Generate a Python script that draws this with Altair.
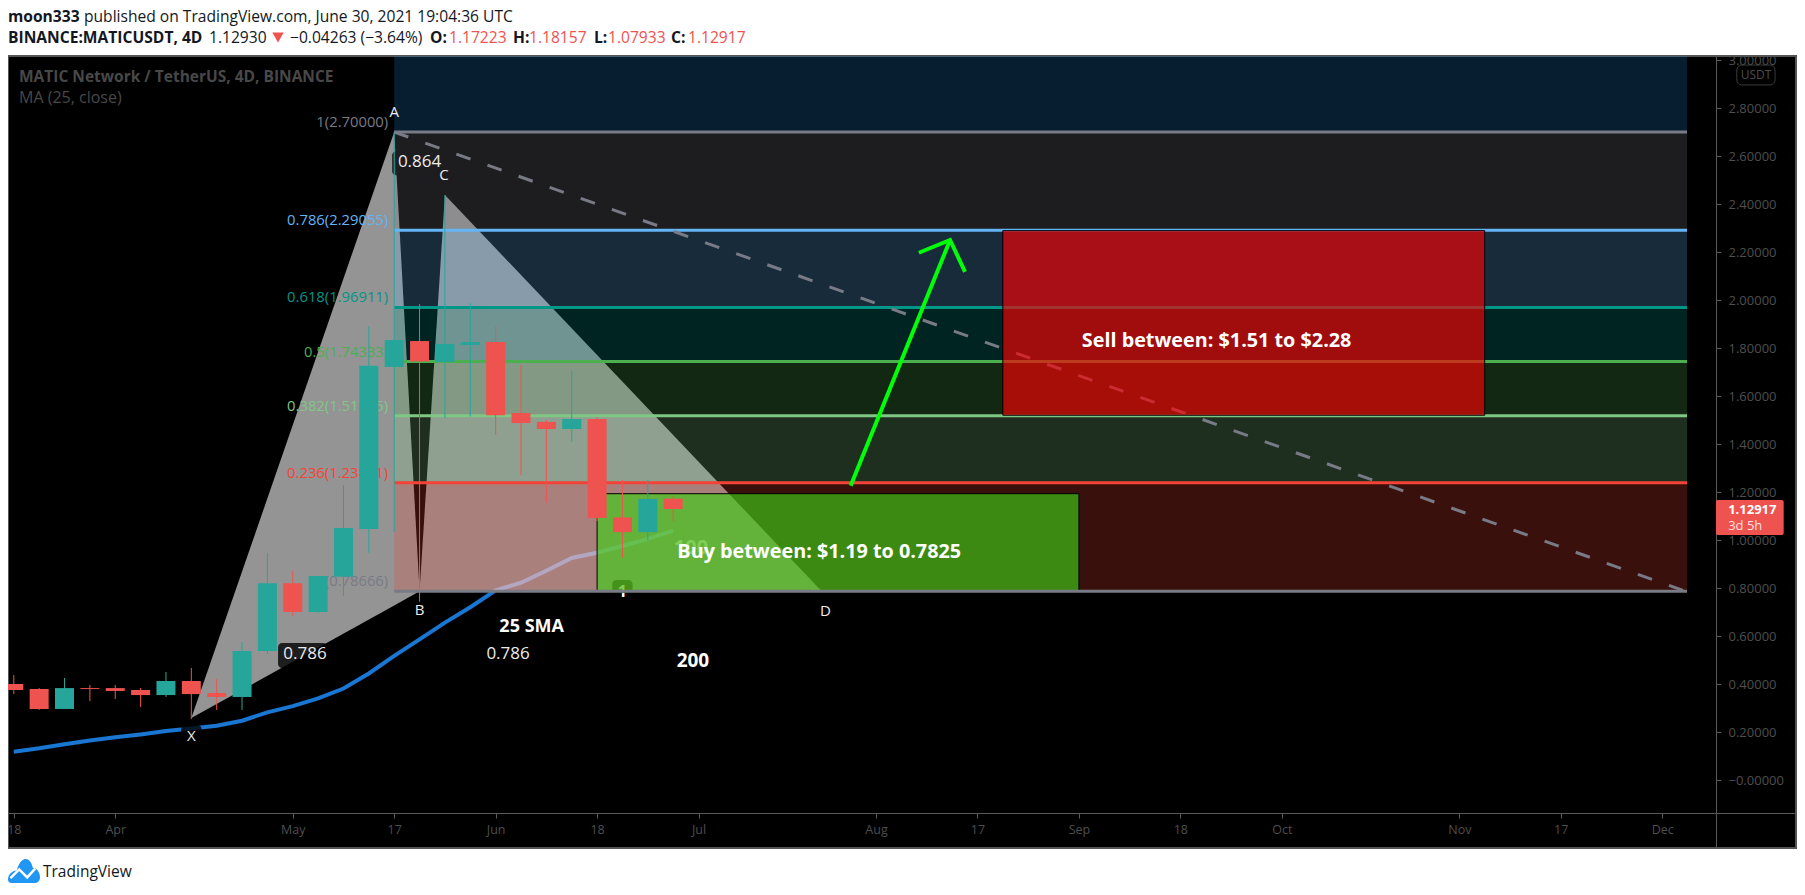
import altair as alt
import pandas as pd

FONT = "Open Sans"
TEAL, RED = "#26a69a", "#ef5350"
AXC = "#4e4e4e"

# --- candle data (bar index, 4D bars) ---
opens  = [.40,.379,.296,.383,.383,.375,.354,.4125,.3625,.346,.5375,.82,.70,.847,1.046,1.721,1.829,1.742,1.8125,1.825,1.529,1.492,1.4625,1.504,1.094,1.033,1.17223]
highs  = [.4375,.383,.425,.396,.396,.383,.45,.467,.421,.575,.945,.872,.85,1.229,1.89,2.70,1.983,2.4375,1.986,1.89,1.729,1.5,1.708,1.5125,1.25,1.25,1.18157]
lows   = [.358,.292,.296,.329,.3375,.304,.346,.254,.292,.292,.525,.683,.696,.768,.947,1.033,.743,1.508,1.514,1.4375,1.27,1.155,1.408,1.079,.926,1.0,1.07933]
closes = [.375,.296,.383,.379,.371,.354,.4125,.358,.346,.5375,.82,.70,.85,1.05,1.726,1.833,1.744,1.817,1.825,1.52,1.4875,1.4625,1.504,1.092,1.033,1.171,1.12917]
ma25   = [.118,.132,.149,.165,.178,.19,.204,.215,.226,.247,.282,.308,.34,.381,.444,.517,.586,.656,.72,.79,.822,.872,.925,.947,.975,1.005,1.039]
bars = list(range(len(opens)))

# --- axes ---
y_ticks = [0, .2, .4, .6, .8, 1.0, 1.2, 1.4, 1.6, 1.8, 2.0, 2.2, 2.4, 2.6, 2.8, 3.0]
x_ticks = [0, 4, 11, 15, 19, 23, 27, 34, 38, 42, 46, 50, 57, 61, 65]
x_tick_labels = ["18", "Apr", "May", "17", "Jun", "18", "Jul", "Aug", "17", "Sep", "18", "Oct", "Nov", "17", "Dec"]

# --- fib levels ---
fib_prices = [2.70, 2.29055, 1.96911, 1.74333, 1.51755, 1.23811, .78666]
fib_names = ["1(2.70000)", "0.786(2.29055)", "0.618(1.96911)", "0.5(1.74333)", "0.382(1.51755)", "0.236(1.23811)", "0(0.78666)"]
fib_colors = ["#787b86", "#64b5f6", "#009688", "#4caf50", "#81c784", "#f44336", "#787b86"]
FIB_X0, FIB_X1 = 15, 65.98

band_tops = [3.0167, 2.70, 2.29055, 1.96911, 1.74333, 1.51755, 1.23811]
band_bottoms = [2.70, 2.29055, 1.96911, 1.74333, 1.51755, 1.23811, .78666]
band_colors = ["#2196f3", "#787b86", "#64b5f6", "#009688", "#4caf50", "#81c784", "#f44336"]
band_alpha = [.2, .24, .24, .24, .23, .23, .24]

# --- XABCD pattern ---
tri1_x, tri1_top, tri1_low = [7, 15, 16], [.258, 2.70, .786], [.258, .727, .786]
tri2_x, tri2_top, tri2_low = [16, 17, 31.86], [.786, 2.4375, .786], [.786, .786, .786]
dash_x, dash_y = [15, 65.82], [2.70, .79]

pill_x0 = [10.42, 14.92, 6.6, 23.6]
pill_x1 = [12.35, 17.2, 7.4, 24.4]
pill_y0 = [.571, 2.62, .23, .833]
pill_y1 = [.467, 2.52, .146, .77]

# --- annotations ---
arrow_shaft_x, arrow_shaft_y = [33, 36.92], [1.226, 2.25]
arrow_head_x, arrow_head_y = [35.69, 36.92, 37.51], [2.197, 2.25, 2.117]

under_text = ["1", "100"]
under_x, under_y, under_size = [24, 26.7], [.783, .965], [16, 20]

note_text = ["A", "B", "C", "D", "X", "0.864", "0.786", "0.786"]
note_x = [15, 16, 16.96, 32, 7, 16, 11.48, 19.49]
note_y = [2.783, .708, 2.52, .704, .183, 2.573, .525, .525]
note_size = [15, 15, 15, 15, 15, 17, 17, 17]
bold_text = ["25 SMA", "200", "Buy between: $1.19 to 0.7825", "Sell between: $1.51 to $2.28"]
bold_x = [20.42, 26.78, 31.76, 47.43]
bold_y = [.638, .495, .952, 1.829]
bold_size = [18, 19, 19.8, 19.8]

header_text = ["moon333", "published on TradingView.com, June 30, 2021 19:04:36 UTC",
               "BINANCE:MATICUSDT, 4D", "1.12930", "−0.04263 (−3.64%)", "O:", "1.17223", "H:", "1.18157", "L:", "1.07933", "C:", "1.12917"]
header_x = [8, 84, 8, 209, 290, 430, 449, 513, 529, 594, 608, 671, 688]
header_row = [17, 17, 38, 38, 38, 38, 38, 38, 38, 38, 38, 38, 38]
header_weight = ["bold", "normal", "bold", "normal", "normal", "bold", "normal", "bold", "normal", "bold", "normal", "bold", "normal"]
header_color = ["#131722", "#131722", "#131722", "#131722", "#131722", "#131722", RED, "#131722", RED, "#131722", RED, "#131722", RED]

# --- scales ---
PW, PH = 1788, 792
OX, OY = 8, 56
XS = alt.Scale(domain=[-0.2287, 70.276], nice=False, zero=False, padding=0)
YS = alt.Scale(domain=[-0.2833, 3.0167], nice=False, zero=False, padding=0)
lab_expr = "[" + ",".join(f"'{s}'" for s in x_tick_labels) + "][indexof([" + ",".join(map(str, x_ticks)) + "],datum.value)]"
XAX = alt.Axis(orient="bottom", offset=-35, values=x_ticks, labelExpr=lab_expr, grid=False, title=None,
               domainColor="#5a5a5a", tickColor="#5a5a5a", tickSize=5, labelColor=AXC, labelFont=FONT,
               labelFontSize=12.5, labelPadding=5, labelOverlap=False, labelFlush=False)
YAX = alt.Axis(orient="right", offset=-80, values=y_ticks, grid=False, title=None,
               labelExpr="datum.value==0 ? '−0.00000' : format(datum.value,'.5f')",
               domainColor="#5a5a5a", tickColor="#5a5a5a", tickSize=5, labelColor=AXC, labelFont=FONT,
               labelFontSize=13, labelPadding=7, labelOverlap=False, labelFlush=False)
def X(f, **k): return alt.X(f, type="quantitative", scale=XS, axis=XAX, **k)
def Y(f, **k): return alt.Y(f, type="quantitative", scale=YS, axis=YAX, **k)
X2 = lambda f: alt.X2(f)
Y2 = lambda f: alt.Y2(f)

def labels(text, x, y, size, color="#ffffff", weight="normal", align="center", **kw):
    df = pd.DataFrame({"t": text, "x": x, "y": y, "s": size})
    return alt.Chart(df).mark_text(font=FONT, color=color, fontWeight=weight, align=align, baseline="middle", **kw).encode(
        x=X("x"), y=Y("y"), text="t:N", size=alt.Size("s:Q", scale=None))

def pixel_text(t, px, py, size, color, weight="normal"):
    return alt.Chart(pd.DataFrame({"t": [t]})).mark_text(
        font=FONT, fontSize=size, fontWeight=weight, color=color, align="left", baseline="middle").encode(
        x=alt.value(px - OX), y=alt.value(py - OY), text="t:N")

# MA line (under the overlays)
ma = alt.Chart(pd.DataFrame({"x": bars, "y": ma25})).mark_line(color="#1976d2", strokeWidth=4).encode(x=X("x"), y=Y("y"))

# pattern triangles
def tri(xs, top, low):
    return alt.Chart(pd.DataFrame({"x": xs, "a": top, "b": low})).mark_area(color="#ffffff", opacity=.58).encode(
        x=X("x"), y=Y("a"), y2=Y2("b"))

pills = alt.Chart(pd.DataFrame({"a": pill_x0, "b": pill_x1, "c": pill_y0, "d": pill_y1})).mark_rect(
    color="#000000", opacity=.8, cornerRadius=4).encode(x=X("a"), x2=X2("b"), y=Y("c"), y2=Y2("d"))

under = labels(under_text, under_x, under_y, under_size, weight="bold")

# fib bands
bands = alt.Chart(pd.DataFrame({"a": [FIB_X0] * 7, "b": [FIB_X1] * 7, "c": band_tops, "d": band_bottoms,
                                "col": band_colors, "op": band_alpha})).mark_rect().encode(
    x=X("a"), x2=X2("b"), y=Y("c"), y2=Y2("d"),
    color=alt.Color("col:N", scale=None), opacity=alt.Opacity("op:Q", scale=None))

fib_df = pd.DataFrame({"a": [FIB_X0] * 7, "b": [FIB_X1] * 7, "y": fib_prices, "col": fib_colors, "t": fib_names})
lines = alt.Chart(fib_df).mark_rule(strokeWidth=3).encode(
    x=X("a"), x2=X2("b"), y=Y("y"), color=alt.Color("col:N", scale=None))
fib_lab = alt.Chart(fib_df).mark_text(font=FONT, fontSize=14.8, align="right", baseline="middle", dx=-6, dy=-9).encode(
    x=X("a"), y=Y("y"), text="t:N", color=alt.Color("col:N", scale=None))

dash = alt.Chart(pd.DataFrame({"x": dash_x, "y": dash_y})).mark_line(
    color="#787b86", strokeWidth=3, strokeDash=[15, 18]).encode(x=X("x"), y=Y("y"))

# zones
def box(x0, x1, y0, y1, col, op):
    d = pd.DataFrame({"a": [x0], "b": [x1], "c": [y0], "d": [y1]})
    fill = alt.Chart(d).mark_rect(color=col, opacity=op).encode(x=X("a"), x2=X2("b"), y=Y("c"), y2=Y2("d"))
    edge = alt.Chart(d).mark_rect(fillOpacity=0, stroke="#000000", strokeWidth=1).encode(x=X("a"), x2=X2("b"), y=Y("c"), y2=Y2("d"))
    return [fill, edge]

# candles
cdf = pd.DataFrame({"x": bars, "o": opens, "h": highs, "l": lows, "c": closes})
cdf["col"] = [TEAL if c >= o else RED for o, c in zip(opens, closes)]
wick = alt.Chart(cdf).mark_rule(strokeWidth=1, clip=True).encode(
    x=X("x"), y=Y("h"), y2=Y2("l"), color=alt.Color("col:N", scale=None))
body = alt.Chart(cdf).mark_bar(size=19, clip=True).encode(
    x=X("x"), y=Y("o"), y2=Y2("c"), color=alt.Color("col:N", scale=None))

# arrow
shaft = alt.Chart(pd.DataFrame({"x": arrow_shaft_x, "y": arrow_shaft_y})).mark_line(color="#00ff0a", strokeWidth=4).encode(x=X("x"), y=Y("y"))
head = alt.Chart(pd.DataFrame({"x": arrow_head_x, "y": arrow_head_y, "i": [0, 1, 2]})).mark_line(color="#00ff0a", strokeWidth=4).encode(
    x=X("x"), y=Y("y"), order="i:Q")

notes = labels(note_text, note_x, note_y, note_size, color="#ececec")
bold = labels(bold_text, bold_x, bold_y, bold_size, weight="bold")

# price tags
tag = alt.Chart(pd.DataFrame({"a": [67.12], "b": [69.79], "c": [1.1667], "d": [1.0208]})).mark_rect(color=RED, cornerRadius=2).encode(
    x=X("a"), x2=X2("b"), y=Y("c"), y2=Y2("d"))
tag1 = labels(["1.12917"], [67.6], [1.125], [13], weight="bold", align="left")
tag2 = labels(["3d 5h"], [67.6], [1.058], [13], color="#fde0df", align="left")
usdt = alt.Chart(pd.DataFrame({"a": [67.94], "b": [69.45], "c": [2.979], "d": [2.896]})).mark_rect(
    fill="#000000", stroke="#3a3a3a", strokeWidth=1, cornerRadius=5).encode(x=X("a"), x2=X2("b"), y=Y("c"), y2=Y2("d"))
usdt_t = labels(["USDT"], [68.7], [2.9375], [12], color=AXC)

# header & watermark (outside the data space)
header = [pixel_text(t, x, y, 15.6, c, w) for t, x, y, w, c in zip(header_text, header_x, header_row, header_weight, header_color)]
tri_icon = alt.Chart(pd.DataFrame({"k": [0]})).mark_point(shape="triangle-down", filled=True, color=RED, opacity=1, size=130).encode(
    x=alt.value(278 - OX), y=alt.value(37.5 - OY))
wm = [pixel_text("MATIC Network / TetherUS, 4D, BINANCE", 19, 77, 15.5, "#484848", "bold"),
      pixel_text("MA (25, close)", 19, 98, 16, "#484848")]

# logo
CLOUD = "M-1 0.55 C-1 0.2 -0.75 0 -0.45 -0.05 C-0.3 -0.6 -0.05 -0.75 0.1 -0.75 C0.4 -0.75 0.5 -0.4 0.55 -0.2 C0.8 -0.2 1 0.1 1 0.4 C1 0.6 0.85 0.75 0.65 0.75 L-0.8 0.75 C-0.9 0.75 -1 0.65 -1 0.55 Z"
ZIG = "M-0.85 0.45 L-0.3 -0.1 L0.2 0.4 L0.7 -0.15"
logo_df = pd.DataFrame({"k": [0]})
logo = alt.Chart(logo_df).mark_point(shape=CLOUD, filled=True, color="#2196f3", opacity=1, size=1024).encode(
    x=alt.value(24 - OX), y=alt.value(871 - OY))
logo2 = alt.Chart(logo_df).mark_point(shape=ZIG, filled=False, color="#ffffff", strokeWidth=2.5, opacity=1, size=1024).encode(
    x=alt.value(24 - OX), y=alt.value(871 - OY))
logo_t = pixel_text("TradingView", 43, 872, 15.5, "#131722")

layers = [ma, tri(tri1_x, tri1_top, tri1_low), tri(tri2_x, tri2_top, tri2_low), pills, under, bands]
layers += box(23, 42, 1.193, .7825, "#3dcc15", .65)
layers += [lines, fib_lab, dash]
layers += box(39, 58, 2.289, 1.52, "#f80003", .65)
layers += [wick, body, shaft, head, notes, bold, tag, tag1, tag2, usdt, usdt_t]
layers += header + [tri_icon] + wm + [logo, logo2, logo_t]

chart = alt.layer(*layers).properties(
    width=PW, height=PH,
    padding={"left": 0, "top": 48, "right": 1, "bottom": 39},
    autosize=alt.AutoSizeParams(type="none"),
    background="#ffffff",
).configure_view(fill="#000000", stroke="#555555", strokeWidth=2)

chart.save("out.html", embed_options={"renderer": "svg", "actions": False})
